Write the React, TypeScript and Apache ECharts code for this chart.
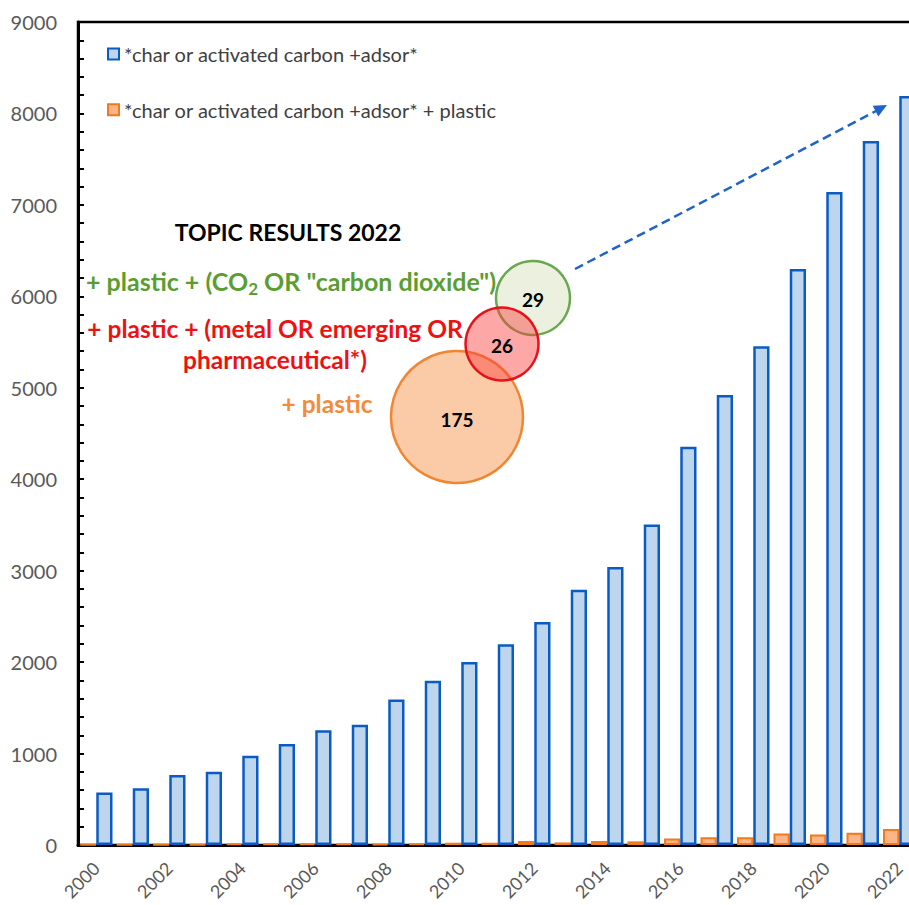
import { useEffect, useRef } from 'react';
import * as echarts from 'echarts';

const years = ['2000','2001','2002','2003','2004','2005','2006','2007','2008','2009','2010','2011','2012','2013','2014','2015','2016','2017','2018','2019','2020','2021','2022'];
const adsorCounts = [575, 620, 765, 800, 975, 1105, 1255, 1315, 1590, 1795, 2000, 2195, 2440, 2790, 3040, 3505, 4355, 4920, 5455, 6300, 7140, 7700, 8190];
const plasticCounts = [4, 4, 4, 4, 15, 15, 15, 18, 12, 15, 25, 25, 45, 28, 45, 40, 70, 85, 85, 125, 115, 135, 175];
const yTicks = { min: 0, max: 9000, interval: 1000 };

const blueName = '*char or activated carbon +adsor*';
const orangeName = '*char or activated carbon +adsor* + plastic';

const FONT = 'Lato';

export default function App() {
  const ref = useRef<HTMLDivElement>(null);
  useEffect(() => {
    const chart = echarts.init(ref.current!, null, { renderer: 'svg' });
    const arrowColor = '#1f63c6';
    const center = { align: 'center', verticalAlign: 'middle', textAlign: 'center', textVerticalAlign: 'middle' };
    chart.setOption({
      animation: false,
      backgroundColor: '#ffffff',
      grid: {
        left: 78, top: 22, right: -8.5, bottom: 60, show: true, borderColor: '#000', borderWidth: 2.5,
        containLabel: false, outerBoundsMode: 'none',
      },
      legend: {
        orient: 'vertical', left: 102, top: 39, itemWidth: 11, itemHeight: 11, itemGap: 35.7,
        icon: 'rect', data: [blueName, orangeName],
        textStyle: { fontFamily: FONT, fontSize: 20, color: '#404040', lineHeight: 20 },
      },
      xAxis: {
        type: 'category', data: years,
        axisLine: { lineStyle: { color: '#000', width: 3 } },
        axisTick: { show: false },
        axisLabel: { interval: 1, rotate: 45, margin: 20, fontFamily: FONT, fontSize: 18, lineHeight: 18, color: '#595959' },
      },
      yAxis: {
        type: 'value', min: yTicks.min, max: yTicks.max, interval: yTicks.interval,
        axisLine: { show: true, lineStyle: { color: '#000', width: 3 } },
        axisTick: { show: true, inside: true, length: 6, lineStyle: { color: '#000', width: 2 } },
        minorTick: { show: true, splitNumber: 5, length: 6, lineStyle: { color: '#000', width: 2 } },
        splitLine: { show: false },
        axisLabel: { margin: 21, fontFamily: FONT, fontSize: 20, color: '#595959', formatter: (v: number) => String(v) },
      },
      series: [
        {
          name: orangeName, type: 'bar', data: plasticCounts, barGap: '0%', barCategoryGap: '11%',
          itemStyle: { color: '#fbb587', borderColor: '#f07a1e', borderWidth: 2 },
        },
        {
          name: blueName, type: 'bar', data: adsorCounts, barGap: '0%', barCategoryGap: '11%',
          itemStyle: { color: '#bdd6ee', borderColor: '#0b5cc2', borderWidth: 2.5 },
        },
      ],
      graphic: [
        { type: 'line', z: 100, shape: { x1: 575, y1: 269, x2: 876, y2: 111 }, style: { stroke: arrowColor, lineWidth: 2.5, lineDash: [9, 5] } },
        { type: 'polygon', z: 100, shape: { points: [[887, 105], [878.3, 116.4], [872.7, 105.7]] }, style: { fill: arrowColor } },
        { type: 'text', z: 100, x: 288, y: 232, style: { text: 'TOPIC RESULTS 2022', font: `bold 23px ${FONT}`, fill: '#000', ...center } },
        {
          type: 'text', z: 100, x: 291, y: 281,
          style: {
            text: '{m|+ plastic + (CO}{s|2}{m| OR "carbon dioxide")}',
            ...center,
            rich: {
              m: { fontFamily: FONT, fontSize: 25, fontWeight: 'bold', fill: '#5a9e32', lineHeight: 32 },
              s: { fontFamily: FONT, fontSize: 17, fontWeight: 'bold', fill: '#5a9e32', lineHeight: 22, verticalAlign: 'bottom' },
            },
          },
        },
        { type: 'text', z: 100, x: 275, y: 328, style: { text: '+ plastic + (metal OR emerging OR', font: `bold 24.5px ${FONT}`, fill: '#ee1111', ...center } },
        { type: 'text', z: 100, x: 275, y: 359, style: { text: 'pharmaceutical*)', font: `bold 24.5px ${FONT}`, fill: '#ee1111', ...center } },
        { type: 'text', z: 100, x: 327, y: 403, style: { text: '+ plastic', font: `bold 24.5px ${FONT}`, fill: '#f48b3a', ...center } },
        { type: 'circle', z: 100, shape: { cx: 533, cy: 298, r: 37 }, style: { fill: '#ebf1de', stroke: '#6aa84f', lineWidth: 2.5 } },
        { type: 'circle', z: 100, shape: { cx: 457, cy: 417, r: 66 }, style: { fill: '#fbcaa6', stroke: '#f08532', lineWidth: 2.5 } },
        { type: 'circle', z: 100, shape: { cx: 502, cy: 344, r: 36.5 }, style: { fill: 'rgba(250,60,60,0.45)', stroke: '#e8111b', lineWidth: 2.5 } },
        { type: 'text', z: 101, x: 533, y: 299, style: { text: '29', font: `bold 19px ${FONT}`, fill: '#000', ...center } },
        { type: 'text', z: 101, x: 502, y: 345, style: { text: '26', font: `bold 19px ${FONT}`, fill: '#000', ...center } },
        { type: 'text', z: 101, x: 457, y: 419, style: { text: '175', font: `bold 19px ${FONT}`, fill: '#000', ...center } },
      ],
    });
    return () => chart.dispose();
  }, []);
  return <div ref={ref} style={{ position: 'absolute', left: 0, top: 0, width: 909, height: 905 }} />;
}
